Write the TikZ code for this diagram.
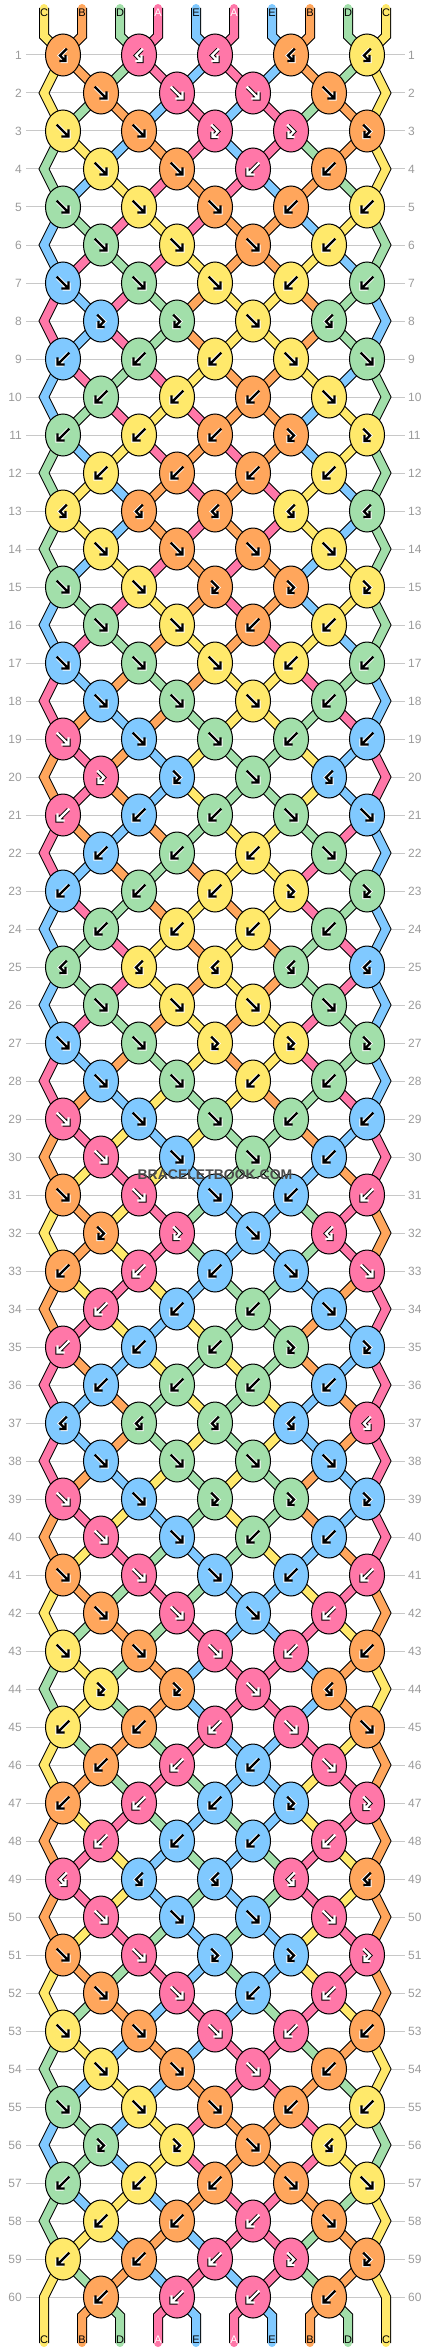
\documentclass[tikz,border=0pt]{standalone}
\usepackage{fontspec}
\setmainfont{Liberation Sans}
\usetikzlibrary{shapes.geometric}

\definecolor{strA}{HTML}{FF77A8}
\definecolor{strB}{HTML}{FFA65C}
\definecolor{strC}{HTML}{FFE96B}
\definecolor{strD}{HTML}{A2DFAA}
\definecolor{strE}{HTML}{80C9FF}
\colorlet{lblA}{white}
\colorlet{lblB}{black}
\colorlet{lblC}{black}
\colorlet{lblD}{black}
\colorlet{lblE}{black}
\definecolor{rowgray}{HTML}{9A9A9A}
\definecolor{linegray}{HTML}{C8C8C8}

\pgfdeclarelayer{bg}
\pgfsetlayers{bg,main}

\tikzset{
  strand/.style={draw=#1, line width=8pt, line cap=round, line join=miter,
    preaction={draw=black, line width=10pt}},
  knot/.style={ellipse, draw=black, line width=1pt, fill=#1,
    minimum width=35pt, minimum height=42pt, inner sep=0pt},
  glyphdark/.style={draw=black, line width=2.4pt, line cap=rect, line join=miter,
    preaction={draw=white, line width=4.2pt}},
  glyphlight/.style={draw=white, line width=2.4pt, line cap=rect, line join=miter,
    preaction={draw=black, line width=4.2pt}},
  rowlbl/.style={text=rowgray, font=\fontsize{12}{12}\selectfont, inner sep=0pt},
  strlbl/.style={font=\fontsize{11}{11}\selectfont, inner sep=0pt},
  gridline/.style={draw=linegray, line width=1pt},
}

% knot types of the 12 rows that repeat
% f = forward, b = backward, g = forward-backward, h = backward-forward
\def\knotrows{{h,h,h,h,h},{f,f,f,f},{f,f,g,g,g},{f,f,b,b},{f,f,f,b,b},{f,f,f,b},%
  {f,f,f,b,b},{g,g,f,h},{b,b,b,f,f},{b,b,b,f},{b,b,b,g,g},{b,b,b,b}}

% one knot: row, knot, left position, type
\newcommand\doknot[4]{%
  \pgfmathtruncatemacro\rpos{#3+1}%
  \edef\Ls{\csname s-#1-#3\endcsname}%
  \edef\Rs{\csname s-#1-\rpos\endcsname}%
  \expandafter\xdef\csname ty-#1-#2\endcsname{#4}%
  \if f#4\expandafter\xdef\csname kc-#1-#2\endcsname{\Ls}\fi
  \if g#4\expandafter\xdef\csname kc-#1-#2\endcsname{\Ls}\fi
  \if b#4\expandafter\xdef\csname kc-#1-#2\endcsname{\Rs}\fi
  \if h#4\expandafter\xdef\csname kc-#1-#2\endcsname{\Rs}\fi
  \if f#4\expandafter\xdef\csname s-#1-#3\endcsname{\Rs}%
    \expandafter\xdef\csname s-#1-\rpos\endcsname{\Ls}\fi
  \if b#4\expandafter\xdef\csname s-#1-#3\endcsname{\Rs}%
    \expandafter\xdef\csname s-#1-\rpos\endcsname{\Ls}\fi
}

% arrow inside a knot: node, type, style
\newcommand\knotglyph[3]{%
  \begin{scope}[shift={(#1.center)}]
    \if f#2\draw[#3] (-5.5,-5.5) -- (4.5,4.5) (-0.5,5.5) -- (5.5,5.5) -- (5.5,-0.5);\fi
    \if b#2\draw[#3] (5.5,-5.5) -- (-4.5,4.5) (0.5,5.5) -- (-5.5,5.5) -- (-5.5,-0.5);\fi
    \if g#2\draw[#3] (-3,-5.5) -- (3,0.5) -- (-2,5.5) (-2.5,1) -- (-2.5,6) -- (2.5,6);\fi
    \if h#2\draw[#3] (3,-5.5) -- (-3,0.5) -- (2,5.5) (2.5,1) -- (2.5,6) -- (-2.5,6);\fi
  \end{scope}%
}

\begin{document}
\begin{tikzpicture}[x=1pt,y=-1pt]
  \useasboundingbox (0,0) rectangle (430,2352);

  % follow the strings through all rows
  \foreach \ts [count=\p] in \knotrows {
    \foreach \tp [count=\k] in \ts {
      \expandafter\xdef\csname kt-\p-\k\endcsname{\tp}
    }
  }
  \foreach \c [count=\j] in {C,B,D,A,E,A,E,B,D,C} {
    \expandafter\xdef\csname s-0-\j\endcsname{\c}
  }
  \foreach \r in {1,...,60} {
    \pgfmathtruncatemacro\rp{\r-1}
    \pgfmathtruncatemacro\p{mod(\r-1,12)+1}
    \pgfmathtruncatemacro\off{mod(\r,2)}
    \pgfmathtruncatemacro\nk{4+\off}
    \foreach \j in {1,...,10} {
      \expandafter\xdef\csname s-\r-\j\endcsname{\csname s-\rp-\j\endcsname}
    }
    \foreach \k in {1,...,\nk} {
      \pgfmathtruncatemacro\lp{2*\k-\off}
      \edef\tp{\csname kt-\p-\k\endcsname}
      \doknot{\r}{\k}{\lp}{\tp}
    }
  }

  % row lines and numbers
  \begin{pgfonlayer}{bg}
    \foreach \r in {1,...,60}
      \draw[gridline] (26,17+38*\r) -- (405,17+38*\r);
  \end{pgfonlayer}
  \foreach \r in {1,...,60} {
    \node[rowlbl, anchor=east] (rl-\r) at (22,17+38*\r) {\r};
    \node[rowlbl, anchor=west] (rr-\r) at (408,17+38*\r) {\r};
  }

  % knots
  \foreach \r in {1,...,60} {
    \pgfmathtruncatemacro\off{mod(\r,2)}
    \pgfmathtruncatemacro\nk{4+\off}
    \foreach \k in {1,...,\nk} {
      \edef\kl{\csname kc-\r-\k\endcsname}
      \edef\ty{\csname ty-\r-\k\endcsname}
      \node[knot=str\kl] (n-\r-\k) at (25+76*\k-38*\off,17+38*\r) {};
      \if A\kl\knotglyph{n-\r-\k}{\ty}{glyphlight}\else\knotglyph{n-\r-\k}{\ty}{glyphdark}\fi
    }
  }

  \begin{pgfonlayer}{bg}
    % top ends
    \foreach \j in {1,...,10} {
      \pgfmathtruncatemacro\k{(\j+1)/2}
      \edef\lt{\csname s-0-\j\endcsname}
      \coordinate (top-\j) at (6+38*\j,8);
      \coordinate (topb-\j) at (6+38*\j,36);
      \draw[strand=str\lt] (top-\j) -- (topb-\j) -- (n-1-\k.center);
    }
    % strings between knots
    \foreach \r in {1,...,59} {
      \pgfmathtruncatemacro\rn{\r+1}
      \pgfmathtruncatemacro\oa{mod(\r,2)}
      \pgfmathtruncatemacro\ob{mod(\rn,2)}
      \foreach \j in {2,...,9} {
        \pgfmathtruncatemacro\ka{(\j+\oa)/2}
        \pgfmathtruncatemacro\kb{(\j+\ob)/2}
        \edef\lt{\csname s-\r-\j\endcsname}
        \draw[strand=str\lt] (n-\r-\ka.center) -- (n-\rn-\kb.center);
      }
    }
    % edge strings
    \foreach \r in {1,3,...,57} {
      \pgfmathtruncatemacro\rn{\r+1}
      \pgfmathtruncatemacro\rnn{\r+2}
      \coordinate (el-\rn) at (44,17+38*\rn);
      \coordinate (er-\rn) at (386,17+38*\rn);
      \edef\lt{\csname s-\r-1\endcsname}
      \draw[strand=str\lt] (n-\r-1.center) -- (el-\rn) -- (n-\rnn-1.center);
      \edef\lt{\csname s-\r-10\endcsname}
      \draw[strand=str\lt] (n-\r-5.center) -- (er-\rn) -- (n-\rnn-5.center);
    }
    % bottom ends
    \coordinate (el-60) at (44,2297);
    \coordinate (er-60) at (386,2297);
    \coordinate (bot-1) at (44,2343);
    \coordinate (bot-10) at (386,2343);
    \edef\lt{\csname s-59-1\endcsname}
    \draw[strand=str\lt] (n-59-1.center) -- (el-60) -- (bot-1);
    \edef\lt{\csname s-59-10\endcsname}
    \draw[strand=str\lt] (n-59-5.center) -- (er-60) -- (bot-10);
    \foreach \j in {2,...,9} {
      \pgfmathtruncatemacro\k{\j/2}
      \edef\lt{\csname s-60-\j\endcsname}
      \coordinate (botb-\j) at (6+38*\j,2316);
      \coordinate (bot-\j) at (6+38*\j,2343);
      \draw[strand=str\lt] (n-60-\k.center) -- (botb-\j) -- (bot-\j);
    }
  \end{pgfonlayer}

  % string letters
  \foreach \j in {1,...,10} {
    \edef\lt{\csname s-0-\j\endcsname}
    \node[strlbl, text=lbl\lt] (ltop-\j) at (6+38*\j,13) {\lt};
    \edef\lt{\csname s-60-\j\endcsname}
    \node[strlbl, text=lbl\lt] (lbot-\j) at (6+38*\j,2340) {\lt};
  }

  \node[font=\bfseries\fontsize{14}{14}\selectfont, text=black!70] (mark) at (215,1175) {BRACELETBOOK.COM};
\end{tikzpicture}
\end{document}
